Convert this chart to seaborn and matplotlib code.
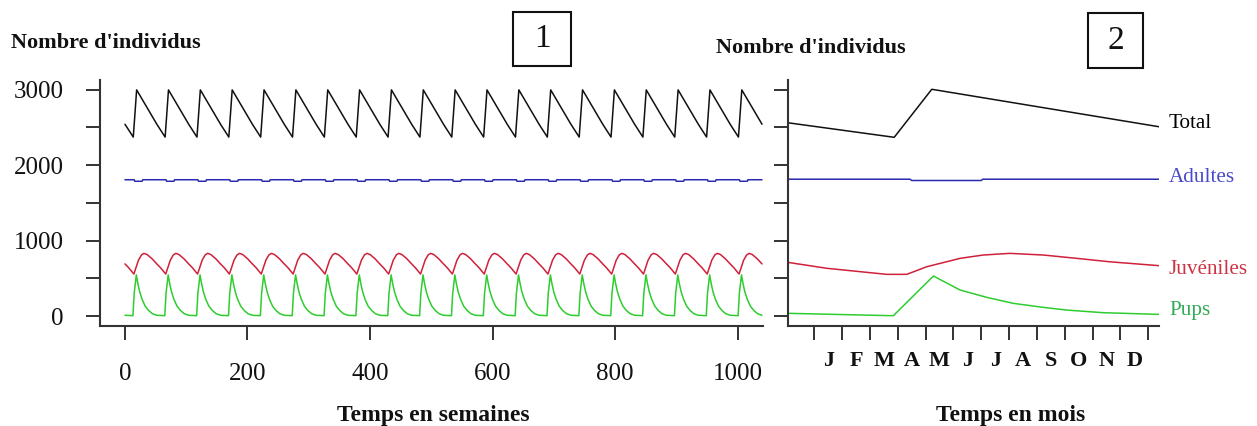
import numpy as np
import pandas as pd
import matplotlib
matplotlib.use("Agg")
import matplotlib.pyplot as plt
from matplotlib.patches import Rectangle
import seaborn as sns

# ---------------- data ----------------
# Panel 1: one yearly cycle (weeks within the cycle); repeated for 20 years
n_years = 20
cycle_len = 52
t_end = 1041

total_cycle_weeks = [0, 13.5, 16, 19]
total_cycle_vals = [2540, 2370, 2650, 2995]

adult_cycle_weeks = [0, 15, 16, 28, 29]
adult_cycle_vals = [1805, 1805, 1785, 1785, 1805]

juv_cycle_weeks = [0, 6, 14.5, 18, 22, 27, 31, 36, 44]
juv_cycle_vals = [690, 640, 556, 640, 740, 810, 830, 815, 760]

pups_cycle_weeks = [0, 13, 15, 18.5, 21, 24, 28, 33, 39, 45]
pups_cycle_vals = [10, 5, 300, 545, 430, 320, 220, 130, 70, 30]

# Panel 2: one year in months (x axis from Jan to Dec)
total_months = [-0.96, 2.87, 4.22, 12.39]
total_vals = [2560, 2367, 3003, 2507]

adult_months = [-0.96, 3.44, 3.5, 6.0, 6.05, 12.39]
adult_vals = [1812, 1812, 1795, 1795, 1812, 1812]

juv_months = [-0.96, 0.45, 2.6, 3.32, 4.04, 5.24, 6.07, 7.03, 8.23, 9.43, 10.6, 12.39]
juv_vals = [711, 632, 552, 552, 653, 764, 808, 830, 808, 764, 719, 667]

pups_months = [-0.96, 2.72, 2.84, 4.28, 5.24, 6.19, 7.15, 8.23, 9.07, 10.39, 12.39]
pups_vals = [36, 5, 5, 530, 344, 248, 168, 115, 79, 44, 22]

month_labels = ["J", "F", "M", "A", "M", "J", "J", "A", "S", "O", "N", "D"]
series_names = ["Total", "Adultes", "Juvéniles", "Pups"]

# ---------------- style ----------------
sns.set_style("ticks")
plt.rcParams["font.family"] = ["Liberation Serif", "DejaVu Serif"]

line_colors = ["#111111", "#2a2aae", "#d0203a", "#2fcc2f"]
label_colors = ["#000000", "#4a4ac8", "#cc3344", "#33aa55"]
spine_col = "#333333"

W, H = 1257, 426
fig = plt.figure(figsize=(W / 100, H / 100), dpi=100)
fig.patch.set_facecolor("white")


def fx(px):
    return px / W


def fy(py):
    return (H - py) / H


def tile(weeks, vals):
    xs, ys = [], []
    for k in range(n_years + 1):
        for w, v in zip(weeks, vals):
            t = w + cycle_len * k
            if t <= t_end:
                xs.append(t)
                ys.append(v)
    return pd.DataFrame({"t": xs, "v": ys})


ax1 = fig.add_axes([fx(100), fy(326), fx(763) - fx(100), fy(80) - fy(326)])
ax2 = fig.add_axes([fx(787.7), fy(326), fx(1159) - fx(787.7), fy(80) - fy(326)])

cycles = [
    (total_cycle_weeks, total_cycle_vals),
    (adult_cycle_weeks, adult_cycle_vals),
    (juv_cycle_weeks, juv_cycle_vals),
    (pups_cycle_weeks, pups_cycle_vals),
]
for (w, v), c in zip(cycles, line_colors):
    df = tile(w, v)
    sns.lineplot(data=df, x="t", y="v", ax=ax1, color=c, lw=1.1,
                 estimator=None, sort=False)

year = [
    (total_months, total_vals),
    (adult_months, adult_vals),
    (juv_months, juv_vals),
    (pups_months, pups_vals),
]
for (m, v), c in zip(year, line_colors):
    df = pd.DataFrame({"m": m, "v": v})
    sns.lineplot(data=df, x="m", y="v", ax=ax2, color=c, lw=1.1,
                 estimator=None, sort=False)

ylo, yhi = -132, 3126
for ax in (ax1, ax2):
    ax.set_ylim(ylo, yhi)
    ax.set_xlabel("")
    ax.set_ylabel("")
    for s in ("top", "right"):
        ax.spines[s].set_visible(False)
    for s in ("left", "bottom"):
        ax.spines[s].set_color(spine_col)
        ax.spines[s].set_linewidth(1.5)
    ax.set_facecolor("white")
    ax.grid(False)

ax1.set_xlim(-40.8, 1041.6)
ax1.set_xticks([0, 200, 400, 600, 800, 1000])
ax1.set_xticklabels(["0", "200", "400", "600", "800", "1000"])
ax1.set_yticks([0, 500, 1000, 1500, 2000, 2500, 3000])
ax1.set_yticklabels(["0", "", "1000", "", "2000", "", "3000"])
ax1.tick_params(axis="both", direction="out", length=10, width=1.4,
                color=spine_col, labelsize=18, labelcolor="#111111",
                bottom=True, left=True)
ax1.tick_params(axis="x", pad=17)
ax1.tick_params(axis="y", pad=16)

ax2.set_xlim(-0.96, 12.39)
ax2.set_xticks(np.arange(0, 13))
ax2.set_xticklabels([""] * 13)
ax2.set_xticks(np.arange(12) + 0.5, minor=True)
ax2.set_xticklabels(month_labels, minor=True, fontweight="bold")
ax2.set_yticks([0, 500, 1000, 1500, 2000, 2500, 3000])
ax2.set_yticklabels([""] * 7)
ax2.tick_params(axis="both", which="major", direction="out", length=10,
                width=1.4, color=spine_col, bottom=True, left=True)
ax2.tick_params(axis="x", which="minor", length=0, pad=18, labelsize=16,
                labelcolor="#111111", bottom=True)

# titles / axis labels
fig.text(fx(11), fy(43), "Nombre d'individus", fontsize=16, fontweight="bold",
         ha="left", va="center", color="#111111")
fig.text(fx(716), fy(48), "Nombre d'individus", fontsize=16, fontweight="bold",
         ha="left", va="center", color="#111111")
fig.text(fx(433), fy(415), "Temps en semaines", fontsize=17,
         fontweight="bold", ha="center", va="center", color="#111111")
fig.text(fx(1010.8), fy(415), "Temps en mois", fontsize=17,
         fontweight="bold", ha="center", va="center", color="#111111")

# numbered boxes
for (x0, x1, y0, y1, txt) in [(513, 571, 12, 66, "1"), (1088, 1143, 13, 68, "2")]:
    fig.add_artist(Rectangle((fx(x0), fy(y1)), fx(x1) - fx(x0), fy(y0) - fy(y1),
                             transform=fig.transFigure, fill=False,
                             edgecolor="#111111", linewidth=1.5))
    fig.text(fx((x0 + x1) / 2), fy((y0 + y1) / 2), txt, fontsize=24,
             ha="center", va="center", color="#111111")

# series labels on the right
label_y = [123, 177, 269, 311]
for name, yy, c in zip(series_names, label_y, label_colors):
    fig.text(fx(1169), fy(yy), name, fontsize=15.2, ha="left", va="center",
             color=c)

fig.savefig("out.png", dpi=100, facecolor="white")
